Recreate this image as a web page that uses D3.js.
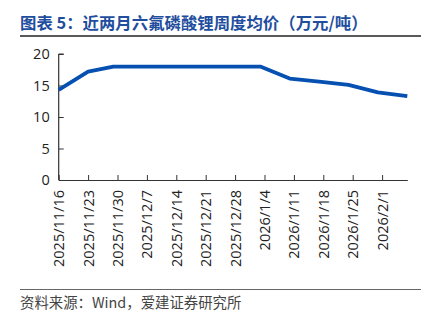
<!DOCTYPE html>
<html>
<head>
<meta charset="utf-8">
<script src="https://cdn.jsdelivr.net/npm/d3@7"></script>
<style>
  html, body { margin: 0; padding: 0; background: #fff; }
  svg { display: block; }
</style>
</head>
<body>
<svg id="chart" width="435" height="326"></svg>
<script>
// Weekly average price of LiPF6 (10k CNY / ton)
const dates = ["2025-11-16", "2025-11-23", "2025-11-29", "2025-12-06", "2025-12-13",
               "2025-12-20", "2025-12-27", "2026-01-03", "2026-01-10", "2026-01-17",
               "2026-01-24", "2026-01-31", "2026-02-07"];
const prices = [14.3, 17.2, 18.0, 18.0, 18.0, 18.0, 18.0, 18.0, 16.1, 15.6, 15.1, 13.9, 13.3];
const tickDates = ["2025-11-16", "2025-11-23", "2025-11-30", "2025-12-07", "2025-12-14",
                   "2025-12-21", "2025-12-28", "2026-01-04", "2026-01-11", "2026-01-18",
                   "2026-01-25", "2026-02-01"];
const yTicks = [0, 5, 10, 15, 20];
const titleText = "图表 5：近两月六氟磷酸锂周度均价（万元/吨）";
const sourceText = "资料来源：Wind，爱建证券研究所";

const parse = d3.utcParse("%Y-%m-%d");
const fmtTick = d3.utcFormat("%Y/%-m/%-d");
const data = dates.map((d, i) => ({ date: parse(d), value: prices[i] }));

const svg = d3.select("#chart");
const cjk = "'Noto Sans CJK SC', 'Noto Sans', sans-serif";
const num = "'Open Sans', 'Noto Sans', sans-serif";

const plot = { left: 58.7, right: 407.3, top: 54, bottom: 180 };

const x = d3.scaleUtc()
  .domain([parse("2025-11-16"), parse("2026-02-07")])
  .range([plot.left, plot.right]);
const y = d3.scaleLinear().domain([0, 20]).range([plot.bottom, plot.top]);

// Title and rule
svg.append("text")
  .attr("x", 20).attr("y", 29)
  .attr("font-family", cjk).attr("font-weight", "bold").attr("font-size", 16.4)
  .attr("fill", "#1f4e9e")
  .text(titleText);
svg.append("line")
  .attr("x1", 20).attr("x2", 421).attr("y1", 36).attr("y2", 36)
  .attr("stroke", "#222").attr("stroke-width", 1.5);

// Y axis
const yAxis = svg.append("g")
  .attr("transform", `translate(${plot.left},0)`)
  .call(d3.axisLeft(y).tickValues(yTicks).tickSizeInner(-5).tickSizeOuter(0).tickPadding(9));
yAxis.select(".domain").attr("stroke", "#333").attr("stroke-width", 1.2)
  .attr("d", `M0,${plot.top}H5M0,${plot.top}V${plot.bottom}`);
yAxis.selectAll(".tick line").attr("stroke", "#333");
yAxis.selectAll(".tick text")
  .attr("font-family", num).attr("font-size", 14.5).attr("fill", "#222");

// X axis
const xAxis = svg.append("g")
  .attr("transform", `translate(0,${plot.bottom})`)
  .call(d3.axisBottom(x).tickValues(tickDates.map(parse)).tickFormat(fmtTick)
    .tickSizeInner(-5).tickSizeOuter(0));
xAxis.select(".domain").attr("stroke", "#333").attr("stroke-width", 1.2);
xAxis.selectAll(".tick line").attr("stroke", "#333");
xAxis.selectAll(".tick text")
  .attr("font-family", num).attr("font-size", 14.5).attr("fill", "#222")
  .attr("transform", "rotate(-90)")
  .attr("text-anchor", "end")
  .attr("dy", "0.35em")
  .attr("x", -10).attr("y", 0);

// Price line
svg.append("path")
  .datum(data)
  .attr("fill", "none")
  .attr("stroke", "#0550b0")
  .attr("stroke-width", 3.8)
  .attr("stroke-linejoin", "round")
  .attr("d", d3.line().x(d => x(d.date)).y(d => y(d.value)));

// Source footer
svg.append("line")
  .attr("x1", 20).attr("x2", 421).attr("y1", 289.5).attr("y2", 289.5)
  .attr("stroke", "#666").attr("stroke-width", 1);
svg.append("text")
  .attr("x", 20).attr("y", 308)
  .attr("font-family", cjk).attr("font-size", 14.4).attr("fill", "#444")
  .text(sourceText);
</script>
</body>
</html>
